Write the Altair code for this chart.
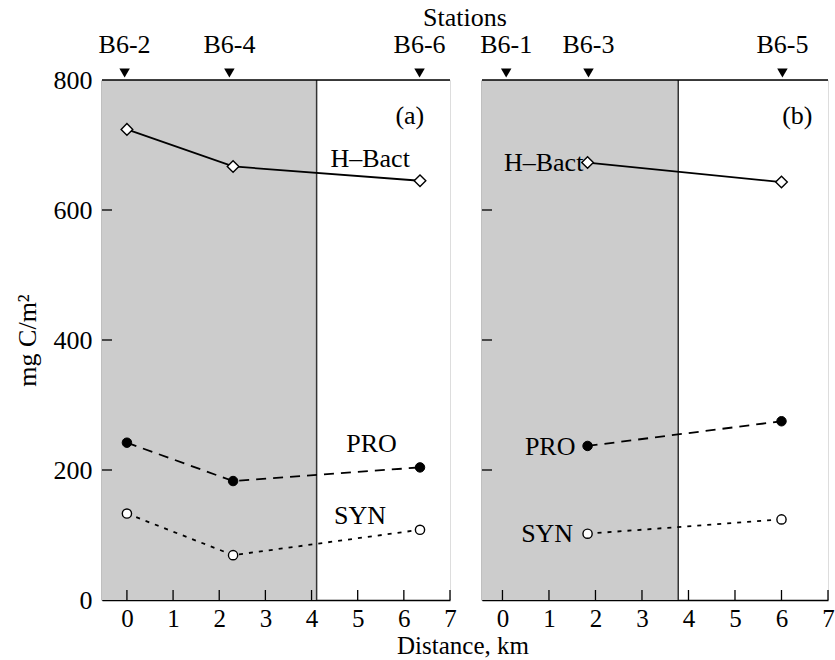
import altair as alt
import pandas as pd

# Panel (a): stations B6-2, B6-4, B6-6
a_km = [0.0, 2.3, 6.35]
a_hbact = [724, 667, 645]
a_pro = [242, 183, 204]
a_syn = [133, 69, 108]
a_stations = ["B6-2", "B6-4", "B6-6"]
a_station_km = [-0.05, 2.22, 6.34]
a_shade_end = 4.11

# Panel (b): stations B6-1, B6-3, B6-5
b_km = [1.83, 6.0]
b_hbact = [673, 643]
b_pro = [237, 275]
b_syn = [102, 124]
b_stations = ["B6-1", "B6-3", "B6-5"]
b_station_km = [0.08, 1.85, 6.02]
b_shade_end = 3.78

x_ticks = [0, 1, 2, 3, 4, 5, 6, 7]
y_ticks = [200, 400, 600]

FONT = "Liberation Serif"
FS = 26
H = 520


def panel(km, hbact, pro, syn, stations, station_km, shade_end,
          x_min, width, tag, tag_pos, labels, show_y):
    x_scale = alt.Scale(domain=[x_min, 7], nice=False, zero=False)
    y_scale = alt.Scale(domain=[0, 800], nice=False)
    x_axis = alt.Axis(values=x_ticks, ticks=False, grid=False, title=None,
                      labelFont=FONT, labelFontSize=25, labelColor="black",
                      labelPadding=6, domainColor="black", domainWidth=1.5,
                      labelFlush=False)
    if show_y:
        y_axis = alt.Axis(values=[0, 200, 400, 600, 800], ticks=False, grid=False,
                          title="mg C/m²", titleFont=FONT, titleFontSize=FS,
                          titleFontWeight="normal", titleColor="black",
                          titlePadding=13,
                          labelFont=FONT, labelFontSize=FS, labelColor="black",
                          labelPadding=10, domainColor="black", domainWidth=1.5)
    else:
        y_axis = alt.Axis(values=[0, 200, 400, 600, 800], ticks=False, grid=False,
                          title=None, labels=False, domainColor="black",
                          domainWidth=1.5)

    X = lambda f: alt.X(f, type="quantitative", scale=x_scale, axis=x_axis)
    Y = lambda f: alt.Y(f, type="quantitative", scale=y_scale, axis=y_axis)

    shade_df = pd.DataFrame({"x0": [x_min], "x1": [shade_end], "y0": [0], "y1": [800]})
    shade = alt.Chart(shade_df).mark_rect(fill="#cccccc").encode(
        x=X("x0"), x2="x1", y=Y("y0"), y2="y1")
    edge = alt.Chart(shade_df).mark_rule(color="#333333", strokeWidth=1.5).encode(
        x=X("x1"), y=Y("y0"), y2="y1")

    xt = alt.Chart(pd.DataFrame({"t": x_ticks, "y0": 0})).mark_rule(
        color="black", strokeWidth=1.3).encode(
        x=X("t"), y=Y("y0"), y2=alt.value(H - 10))
    yt = alt.Chart(pd.DataFrame({"t": y_ticks})).mark_rule(
        color="black", strokeWidth=1.3).encode(
        y=Y("t"), x=alt.value(0), x2=alt.value(10))
    top = alt.Chart(pd.DataFrame({"k": [0]})).mark_rule(
        color="black", strokeWidth=1.5).encode(
        x=alt.value(0), x2=alt.value(width), y=alt.value(0))

    df = pd.DataFrame({"km": km, "hbact": hbact, "pro": pro, "syn": syn})
    base = alt.Chart(df)
    l_h = base.mark_line(color="black", strokeWidth=1.8).encode(x=X("km"), y=Y("hbact"))
    l_p = base.mark_line(color="black", strokeWidth=1.8, strokeDash=[10, 7]).encode(
        x=X("km"), y=Y("pro"))
    l_s = base.mark_line(color="black", strokeWidth=1.8, strokeDash=[4, 6]).encode(
        x=X("km"), y=Y("syn"))
    p_h = base.mark_point(shape="diamond", size=135, filled=True, fill="white",
                          stroke="black", strokeWidth=1.4, opacity=1).encode(
        x=X("km"), y=Y("hbact"))
    p_p = base.mark_point(shape="circle", size=90, filled=True, fill="black",
                          stroke="black", strokeWidth=1, opacity=1).encode(
        x=X("km"), y=Y("pro"))
    p_s = base.mark_point(shape="circle", size=85, filled=True, fill="white",
                          stroke="black", strokeWidth=1.4, opacity=1).encode(
        x=X("km"), y=Y("syn"))

    st_df = pd.DataFrame({"km": station_km, "name": stations})
    st_mark = alt.Chart(st_df).mark_point(shape="triangle-down", size=110, filled=True,
                                          color="black", opacity=1).encode(
        x=X("km"), y=alt.value(-7))
    st_text = alt.Chart(st_df).mark_text(font=FONT, fontSize=FS, baseline="middle",
                                         color="black").encode(
        x=X("km"), y=alt.value(-35), text="name")

    tag_df = pd.DataFrame({"x": [tag_pos[0]], "y": [tag_pos[1]], "t": [tag]})
    tag_text = alt.Chart(tag_df).mark_text(font=FONT, fontSize=FS, baseline="middle",
                                           color="black").encode(
        x=X("x"), y=Y("y"), text="t")

    lab_df = pd.DataFrame(labels, columns=["x", "y", "t", "a"])
    lab_layers = []
    for align in ["center", "right"]:
        sub = lab_df[lab_df["a"] == align]
        if len(sub):
            lab_layers.append(alt.Chart(sub).mark_text(
                font=FONT, fontSize=FS, baseline="middle", align=align,
                color="black").encode(x=X("x"), y=Y("y"), text="t"))

    layers = [shade, edge, xt, yt, top, l_h, l_p, l_s, p_h, p_p, p_s,
              st_mark, st_text, tag_text] + lab_layers
    if show_y:
        heading = alt.Chart(pd.DataFrame({"t": ["Stations"]})).mark_text(
            font=FONT, fontSize=FS, baseline="middle", color="black").encode(
            x=alt.value(363), y=alt.value(-62), text="t")
        xtitle = alt.Chart(pd.DataFrame({"t": ["Distance, km"]})).mark_text(
            font=FONT, fontSize=25, baseline="bottom", color="black").encode(
            x=alt.value(361), y=alt.value(H + 59), text="t")
        layers += [heading, xtitle]
    return alt.layer(*layers).properties(width=width, height=H)


left = panel(a_km, a_hbact, a_pro, a_syn, a_stations, a_station_km, a_shade_end,
             -0.54, 348, "(a)", (6.13, 745),
             [(5.27, 678, "H–Bact", "center"), (5.3, 240, "PRO", "center"),
              (5.05, 129, "SYN", "center")], True)
right = panel(b_km, b_hbact, b_pro, b_syn, b_stations, b_station_km, b_shade_end,
              -0.44, 346, "(b)", (6.34, 745),
              [(1.74, 673, "H–Bact", "right"), (1.57, 236, "PRO", "right"),
               (1.52, 101, "SYN", "right")], False)

chart = alt.hconcat(left, right, spacing=32, bounds="flush").properties(
    padding={"left": 13, "top": 4, "right": 0, "bottom": 0}
).configure_view(stroke=None).configure(background="white")

chart.save("out.html", embed_options={"renderer": "svg", "actions": False})
